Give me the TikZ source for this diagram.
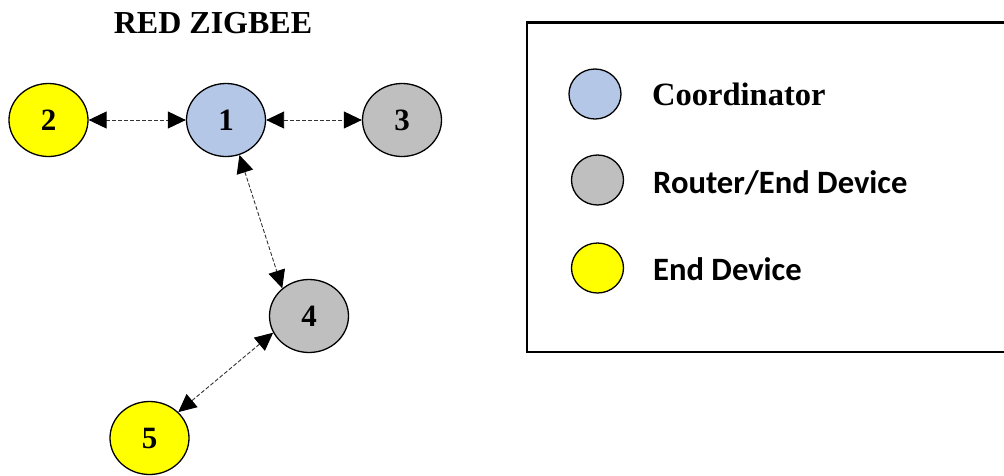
\documentclass[tikz,border=0pt]{standalone}
\usepackage{fontspec}
\setmainfont{Liberation Serif}
\newfontfamily\calibri{Carlito}
\usetikzlibrary{shapes.geometric,arrows.meta}
\definecolor{coordblue}{HTML}{B4C7E7}
\definecolor{routergray}{HTML}{BFBFBF}
\definecolor{endyellow}{HTML}{FFFF00}
\tikzset{
  devnode/.style={ellipse,draw=black,line width=1.3pt,minimum width=79pt,minimum height=73pt,inner sep=0pt,
    font=\fontsize{31}{31}\selectfont\bfseries},
  legnode/.style={ellipse,draw=black,line width=1.3pt,minimum width=52pt,minimum height=50pt,inner sep=0pt},
  link/.style={dashed,dash pattern=on 4pt off 2pt,line width=0.9pt,draw=black!80,
    {Triangle[length=18pt,width=17pt,color=black]}-{Triangle[length=18pt,width=17pt,color=black]}},
  legtext/.style={anchor=base west,inner sep=0pt}
}
\begin{document}
\begin{tikzpicture}[x=1pt,y=-1pt]
\useasboundingbox (0,0) rectangle (1004,475);
\node[anchor=base,inner sep=0pt,font=\fontsize{32}{32}\selectfont\bfseries] (title) at (213,33) {RED ZIGBEE};
\node[devnode,fill=coordblue] (n1) at (226,120) {1};
\node[devnode,fill=endyellow] (n2) at (48.5,120) {2};
\node[devnode,fill=routergray] (n3) at (402,120) {3};
\node[devnode,fill=routergray] (n4) at (309,316) {4};
\node[devnode,fill=endyellow] (n5) at (149.5,438) {5};
\draw[link] (n2) -- (n1);
\draw[link] (n1) -- (n3);
\draw[link] (n1.-69) -- (n4.134);
\draw[link] (n4.205) -- (n5.42);
% legend
\draw[line width=2.5pt] (527,22.5) rectangle (1015,352);
\node[legnode,fill=coordblue] (l1) at (595,94) {};
\node[legnode,fill=routergray] (l2) at (597.5,180) {};
\node[legnode,fill=endyellow] (l3) at (597.5,268) {};
\node[legtext,font=\fontsize{32.5}{32.5}\selectfont\bfseries] (t1) at (652,105) {Coordinator};
\node[legtext,font=\calibri\fontsize{32.6}{32.6}\selectfont\bfseries] (t2) at (653,193) {Router/End Device};
\node[legtext,font=\calibri\fontsize{32.6}{32.6}\selectfont\bfseries] (t3) at (653,280) {End Device};
\end{tikzpicture}
\end{document}
